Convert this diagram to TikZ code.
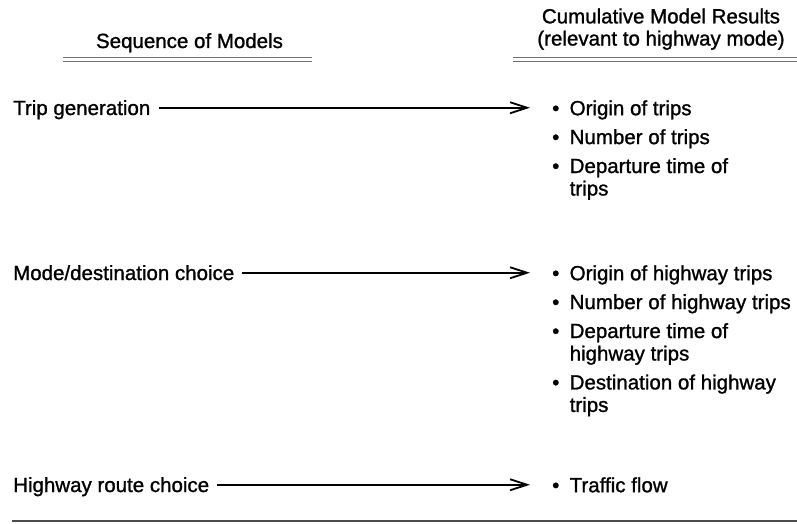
\documentclass[tikz,border=0pt]{standalone}
\usepackage{fontspec}
\setmainfont{Liberation Sans}[FakeBold=1.2]
\usetikzlibrary{arrows.meta,positioning}
\newcommand{\bul}{\makebox[17.5pt][l]{\textbullet}}
\newcommand{\cont}{\hspace*{17.5pt}}
\tikzset{
model/.style={inner sep=0,anchor=base west,text height=14.5pt,text depth=0pt,font=\fontsize{20.5}{22.5}\selectfont},
result/.style={inner sep=0,align=left,font=\fontsize{20.5}{22.5}\selectfont},
head/.style={inner sep=0,align=center,font=\fontsize{20.5}{21}\selectfont},
flow/.style={-{Straight Barb[length=17pt,width=11pt]},line width=1.8pt,shorten <=8pt,shorten >=22pt},
rule/.style={line width=1.4pt,black!55}
}
\begin{document}
\begin{tikzpicture}[x=1pt,y=-1pt,node distance=6pt]
\useasboundingbox (0,0) rectangle (797,524);
% headings
\node[head,anchor=base](hl) at (189.5,48){Sequence of Models};
\node[head,anchor=north](hr) at (661,8.3){\strut Cumulative Model Results\\(relevant to highway mode)};
\draw[rule](63,57.5)--(312,57.5);\draw[rule](63,61.5)--(312,61.5);
\draw[rule](513,57.5)--(797,57.5);\draw[rule](513,61.5)--(797,61.5);
% trip generation
\node[model](m1) at (13,115){Trip generation};
\node[result,anchor=north west](a1) at (552,99.25){\strut\bul Origin of trips\strut};
\node[result,below=of a1.south west,anchor=north west](a2){\strut\bul Number of trips\strut};
\node[result,below=of a2.south west,anchor=north west](a3){\strut\bul Departure time of\\\cont trips\strut};
\draw[flow](m1.east)--(m1.east -| a1.west);
% mode/destination choice
\node[model](m2) at (13,280){Mode/destination choice};
\node[result,anchor=north west](b1) at (552,264.25){\strut\bul Origin of highway trips\strut};
\node[result,below=of b1.south west,anchor=north west](b2){\strut\bul Number of highway trips\strut};
\node[result,below=of b2.south west,anchor=north west](b3){\strut\bul Departure time of\\\cont highway trips\strut};
\node[result,below=of b3.south west,anchor=north west](b4){\strut\bul Destination of highway\\\cont trips\strut};
\draw[flow](m2.east)--(m2.east -| b1.west);
% highway route choice
\node[model](m3) at (13,492){Highway route choice};
\node[result,anchor=north west](c1) at (552,476.25){\strut\bul Traffic flow\strut};
\draw[flow](m3.east)--(m3.east -| c1.west);
\draw[line width=1.4pt,black!70](12,521)--(797,521);
\end{tikzpicture}
\end{document}
